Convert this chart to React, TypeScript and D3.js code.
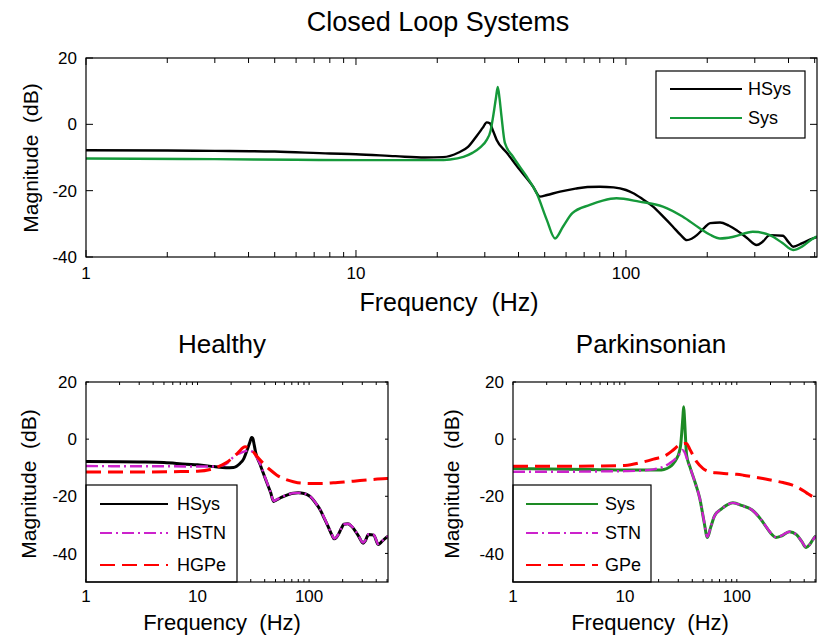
import React from 'react';
import * as d3 from 'd3';

// ---- Frequency response data (Hz, dB) ----
const hsysFreq = [1, 2, 3, 5, 8, 10, 14, 18, 21, 24, 26, 28, 29.5, 30.5, 31.3, 32.2, 33.2, 36.2, 40.5, 45.3, 48, 51, 57, 65, 72, 80, 90, 100, 106, 115, 126, 138, 149, 160, 168, 175, 183, 195, 205, 223, 240, 257, 280, 305, 320, 341, 381, 400, 416, 450, 493, 510];
const hsysDb = [-7.8, -7.9, -8.0, -8.2, -8.8, -9.0, -9.6, -10.0, -9.9, -8.5, -6.8, -3.5, -1.0, 0.6, 0.3, -2.0, -4.7, -8.6, -13.8, -18.8, -21.8, -21.3, -20.3, -19.4, -18.9, -18.8, -19.0, -19.8, -20.7, -22.5, -24.8, -28.0, -30.8, -33.5, -34.9, -34.5, -33.4, -31.2, -29.8, -29.6, -30.5, -31.9, -34.2, -36.4, -35.5, -33.4, -33.6, -35.5, -36.9, -35.8, -34.4, -34.0];

const sysFreq = [1, 3, 6, 10, 14.5, 20, 22.3, 25, 27, 29, 30.5, 31.5, 32.2, 33, 33.5, 34, 34.6, 35.6, 38.1, 42.9, 46.7, 50.9, 54.6, 58.5, 63.3, 73.5, 82, 92.2, 112, 137, 162, 188, 205, 223, 250, 295, 341, 380, 416, 450, 493, 510];
const sysDb = [-10.3, -10.5, -10.7, -10.8, -10.8, -10.8, -10.6, -9.8, -8.6, -6.8, -4.7, -2.0, 2.3, 8.0, 11.3, 8.0, 2.3, -5.6, -9.7, -15.8, -20.8, -28.8, -34.4, -30.8, -26.8, -24.3, -23.0, -22.3, -23.3, -24.8, -27.8, -31.4, -33.3, -34.4, -33.9, -32.4, -33.4, -35.8, -37.9, -36.8, -34.4, -33.8];

const hstnFreq = [1, 3, 6, 10, 14, 17, 19, 21, 23, 25, 27.6, 29.5, 31.4, 33.2, 36.2, 40.5, 45.3, 48, 51, 57, 65, 72, 80, 90, 100, 106, 115, 126, 138, 149, 160, 168, 175, 183, 195, 205, 223, 240, 257, 280, 305, 320, 341, 381, 400, 416, 450, 493, 510];
const hstnDb = [-9.4, -9.5, -9.5, -9.6, -9.6, -9.2, -8.0, -6.2, -5.2, -4.6, -4.1, -4.0, -4.6, -5.8, -8.4, -13.6, -18.7, -21.6, -21.2, -20.2, -19.4, -18.9, -18.8, -19.0, -19.8, -20.6, -22.4, -24.7, -27.9, -30.7, -33.4, -34.8, -34.4, -33.3, -31.1, -29.8, -29.6, -30.4, -31.8, -34.1, -36.2, -35.4, -33.3, -33.5, -35.4, -36.7, -35.7, -34.3, -34.0];

const hgpeFreq = [1, 3, 6, 10, 13, 15, 18, 20, 23, 26.7, 30, 34, 38.9, 45, 51.5, 60, 72.3, 85, 102, 130, 165, 220, 286, 380, 497, 510];
const hgpeDb = [-11.5, -11.5, -11.4, -11.2, -10.6, -9.8, -8.3, -7.0, -4.8, -2.7, -3.5, -6.0, -8.5, -10.8, -12.6, -13.9, -14.9, -15.4, -15.5, -15.5, -15.3, -14.9, -14.5, -14.1, -13.8, -13.8];

const stnFreq = [1, 3, 6, 10, 14, 18, 21.9, 25, 28.4, 31, 32.6, 34, 35.6, 38.1, 42.9, 46.7, 50.9, 54.6, 58.5, 63.3, 73.5, 82, 92.2, 112, 137, 162, 188, 205, 223, 250, 295, 341, 380, 416, 450, 493, 510];
const stnDb = [-11.4, -11.4, -11.3, -11.2, -11.0, -10.6, -9.7, -8.5, -6.8, -5.0, -3.8, -4.5, -6.5, -9.8, -15.8, -20.8, -28.6, -34.2, -30.7, -26.8, -24.3, -23.0, -22.3, -23.3, -24.8, -27.8, -31.3, -33.2, -34.3, -33.8, -32.4, -33.4, -35.8, -37.8, -36.8, -34.5, -33.9];

const gpeFreq = [1, 3, 6, 10, 14.5, 18, 23.4, 27, 30.5, 33, 35.4, 38, 43.7, 50, 57, 65, 80.6, 100, 114, 140, 171, 210, 259, 310, 366, 420, 482, 510];
const gpeDb = [-9.5, -9.5, -9.4, -9.2, -8.0, -7.0, -5.6, -3.8, -2.1, -1.6, -1.5, -3.5, -7.9, -10.3, -11.4, -11.8, -12.1, -12.3, -12.6, -13.2, -13.8, -14.5, -15.2, -16.0, -17.3, -18.8, -20.2, -20.6];

// ---- Axis ticks ----
const xMajorTicks = [1, 10, 100];
const xTickLabels = ['1', '10', '100'];
const xMinorTicks = [2, 3, 4, 5, 6, 7, 8, 9, 20, 30, 40, 50, 60, 70, 80, 90, 200, 300, 400, 500];
const yTicksTop = [20, 0, -20, -40];
const yTicksBottom = [20, 0, -20, -40];

const FONT = '"Liberation Sans", Arial, Helvetica, sans-serif';
const FREQ_MAX = 510;

type Series = {
  key: string;
  freq: number[];
  db: number[];
  color: string;
  width: number;
  dash?: string;
};

type LegendSpec = {
  x: number;
  y: number;
  w: number;
  h: number;
  rowY: number[];
  lineX0: number;
  lineX1: number;
  textX: number;
  lineWidth: number;
};

type PanelProps = {
  id: string;
  left: number;
  right: number;
  top: number;
  bottom: number;
  yDomain: [number, number];
  yTicks: number[];
  majorLen: number;
  minorLen: number;
  xLabelOffset: number;
  series: Series[];
  labels: string[];
  legend: LegendSpec;
};

function Panel(p: PanelProps) {
  const xs = d3.scaleLog().domain([1, FREQ_MAX]).range([p.left, p.right]);
  const ys = d3.scaleLinear().domain(p.yDomain).range([p.bottom, p.top]);
  const line = d3
    .line<[number, number]>()
    .x((d) => xs(d[0]))
    .y((d) => ys(d[1]))
    .curve(d3.curveMonotoneX);

  const clipId = `clip-${p.id}`;
  const lg = p.legend;

  return (
    <g>
      <defs>
        <clipPath id={clipId}>
          <rect x={p.left} y={p.top} width={p.right - p.left} height={p.bottom - p.top} />
        </clipPath>
      </defs>
      <rect x={p.left} y={p.top} width={p.right - p.left} height={p.bottom - p.top} fill="#fff" />

      {/* curves */}
      <g clipPath={`url(#${clipId})`}>
        {p.series.map((s) => (
          <path
            key={s.key}
            d={line(s.freq.map((f, i) => [f, s.db[i]] as [number, number])) || ''}
            fill="none"
            stroke={s.color}
            strokeWidth={s.width}
            strokeDasharray={s.dash}
            strokeLinejoin="round"
          />
        ))}
      </g>

      {/* ticks */}
      <g stroke="#000" strokeWidth={1}>
        {xMajorTicks.map((t) => (
          <g key={`xM${t}`}>
            <line x1={xs(t)} x2={xs(t)} y1={p.bottom} y2={p.bottom - p.majorLen} />
            <line x1={xs(t)} x2={xs(t)} y1={p.top} y2={p.top + p.majorLen} />
          </g>
        ))}
        {xMinorTicks.filter((t) => t <= FREQ_MAX).map((t) => (
          <g key={`xm${t}`}>
            <line x1={xs(t)} x2={xs(t)} y1={p.bottom} y2={p.bottom - p.minorLen} />
            <line x1={xs(t)} x2={xs(t)} y1={p.top} y2={p.top + p.minorLen} />
          </g>
        ))}
        {p.yTicks.map((t) => (
          <g key={`y${t}`}>
            <line x1={p.left} x2={p.left + p.majorLen} y1={ys(t)} y2={ys(t)} />
            <line x1={p.right} x2={p.right - p.majorLen} y1={ys(t)} y2={ys(t)} />
          </g>
        ))}
      </g>

      {/* legend */}
      <rect x={lg.x} y={lg.y} width={lg.w} height={lg.h} fill="#fff" stroke="#000" strokeWidth={1.2} />
      {p.series.map((s, i) => (
        <g key={`lg${s.key}`}>
          <line
            x1={lg.lineX0}
            x2={lg.lineX1}
            y1={lg.rowY[i]}
            y2={lg.rowY[i]}
            stroke={s.color}
            strokeWidth={lg.lineWidth}
            strokeDasharray={s.dash}
          />
          <text x={lg.textX} y={lg.rowY[i]} dy="0.36em" fontSize={18} fontFamily={FONT} fill="#000">
            {p.labels[i]}
          </text>
        </g>
      ))}

      {/* frame */}
      <rect
        x={p.left}
        y={p.top}
        width={p.right - p.left}
        height={p.bottom - p.top}
        fill="none"
        stroke="#000"
        strokeWidth={1.2}
      />

      {/* tick labels */}
      {xMajorTicks.map((t, i) => (
        <text
          key={`xl${t}`}
          x={xs(t)}
          y={p.bottom + p.xLabelOffset}
          textAnchor="middle"
          fontSize={17}
          fontFamily={FONT}
          fill="#000"
        >
          {xTickLabels[i]}
        </text>
      ))}
      {p.yTicks.map((t) => (
        <text
          key={`yl${t}`}
          x={p.left - 9}
          y={ys(t)}
          dy="0.36em"
          textAnchor="end"
          fontSize={17}
          fontFamily={FONT}
          fill="#000"
        >
          {t}
        </text>
      ))}
    </g>
  );
}

export default function App() {
  const black = '#000000';
  const greenTop = '#15993a';
  const greenBottom = '#1d8a24';
  const magenta = '#cc22cc';
  const red = '#ff0000';

  const topSeries: Series[] = [
    { key: 'hsys', freq: hsysFreq, db: hsysDb, color: black, width: 2.4 },
    { key: 'sys', freq: sysFreq, db: sysDb, color: greenTop, width: 2.4 },
  ];
  const healthySeries: Series[] = [
    { key: 'hsys', freq: hsysFreq, db: hsysDb, color: black, width: 3 },
    { key: 'hstn', freq: hstnFreq, db: hstnDb, color: magenta, width: 2.4, dash: '12 4 2 4' },
    { key: 'hgpe', freq: hgpeFreq, db: hgpeDb, color: red, width: 3, dash: '15 7' },
  ];
  const parkSeries: Series[] = [
    { key: 'sys', freq: sysFreq, db: sysDb, color: greenBottom, width: 3 },
    { key: 'stn', freq: stnFreq, db: stnDb, color: magenta, width: 2.4, dash: '12 4 2 4' },
    { key: 'gpe', freq: gpeFreq, db: gpeDb, color: red, width: 3, dash: '15 7' },
  ];

  const textStyle = { fontFamily: FONT, fill: '#000' };

  return (
    <svg
      width={821}
      height={642}
      viewBox="0 0 821 642"
      style={{ position: 'absolute', left: 0, top: 0, background: '#fff' }}
    >
      <rect width={821} height={642} fill="#fff" />

      {/* Closed loop systems */}
      <text x={438} y={31} textAnchor="middle" fontSize={27} {...textStyle}>
        Closed Loop Systems
      </text>
      <Panel
        id="top"
        left={86}
        right={817}
        top={58}
        bottom={257}
        yDomain={[-40, 20]}
        yTicks={yTicksTop}
        majorLen={7}
        minorLen={5}
        xLabelOffset={22}
        series={topSeries}
        labels={['HSys', 'Sys']}
        legend={{ x: 656, y: 71, w: 149, h: 67, rowY: [89, 118], lineX0: 670, lineX1: 742, textX: 748, lineWidth: 2 }}
      />
      <text x={449} y={311} textAnchor="middle" fontSize={25} {...textStyle} xmlSpace="preserve">
        Frequency  (Hz)
      </text>
      <text transform="translate(38,158) rotate(-90)" textAnchor="middle" fontSize={21} {...textStyle} xmlSpace="preserve">
        Magnitude  (dB)
      </text>

      {/* Healthy */}
      <text x={222} y={353} textAnchor="middle" fontSize={26} {...textStyle}>
        Healthy
      </text>
      <Panel
        id="healthy"
        left={86}
        right={388}
        top={382}
        bottom={582}
        yDomain={[-50, 20]}
        yTicks={yTicksBottom}
        majorLen={3}
        minorLen={3}
        xLabelOffset={20}
        series={healthySeries}
        labels={['HSys', 'HSTN', 'HGPe']}
        legend={{ x: 86, y: 485, w: 151, h: 97, rowY: [504, 533, 565], lineX0: 100, lineX1: 168, textX: 177, lineWidth: 2 }}
      />
      <text x={222} y={630} textAnchor="middle" fontSize={22} {...textStyle} xmlSpace="preserve">
        Frequency  (Hz)
      </text>
      <text transform="translate(36,484) rotate(-90)" textAnchor="middle" fontSize={21} {...textStyle} xmlSpace="preserve">
        Magnitude  (dB)
      </text>

      {/* Parkinsonian */}
      <text x={651} y={353} textAnchor="middle" fontSize={26} {...textStyle}>
        Parkinsonian
      </text>
      <Panel
        id="park"
        left={513}
        right={816}
        top={382}
        bottom={582}
        yDomain={[-50, 20]}
        yTicks={yTicksBottom}
        majorLen={3}
        minorLen={3}
        xLabelOffset={20}
        series={parkSeries}
        labels={['Sys', 'STN', 'GPe']}
        legend={{ x: 513, y: 485, w: 138, h: 97, rowY: [504, 533, 565], lineX0: 526, lineX1: 598, textX: 605, lineWidth: 2 }}
      />
      <text x={650} y={630} textAnchor="middle" fontSize={22} {...textStyle} xmlSpace="preserve">
        Frequency  (Hz)
      </text>
      <text transform="translate(459,484) rotate(-90)" textAnchor="middle" fontSize={21} {...textStyle} xmlSpace="preserve">
        Magnitude  (dB)
      </text>
    </svg>
  );
}
